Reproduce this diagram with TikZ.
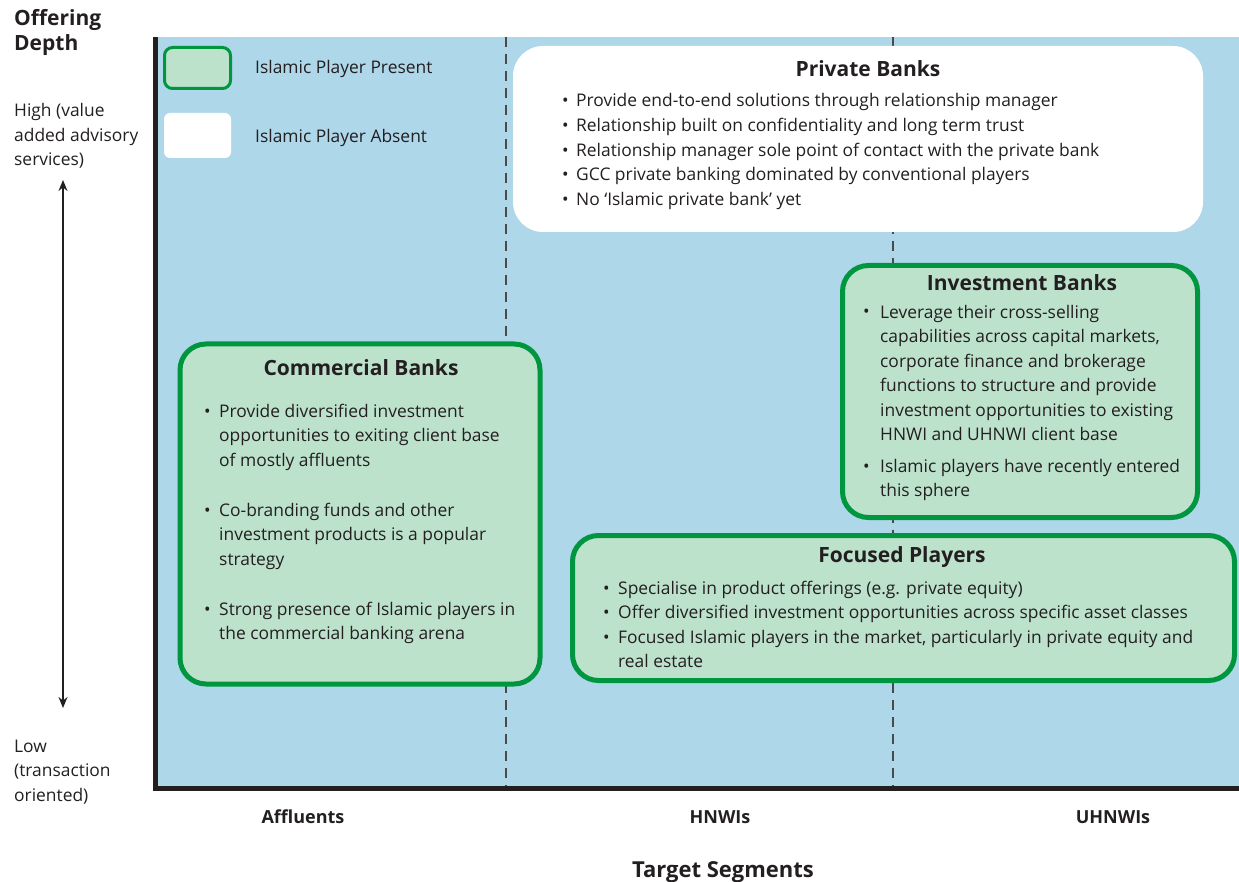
\documentclass[tikz,border=0pt]{standalone}
\usepackage{fontspec}
\setmainfont{Open Sans}
\usetikzlibrary{arrows.meta}
\definecolor{ink}{HTML}{231F20}
\definecolor{sky}{HTML}{AED7EA}
\definecolor{pgreen}{HTML}{00953F}
\definecolor{pfill}{HTML}{BDE2CC}
\definecolor{dashgray}{HTML}{4A4A4A}
\begin{document}
\begin{tikzpicture}[x=1pt,y=-1pt,
  % multi-line text nodes are placed by the baseline of their last line
  body/.style={font=\fontsize{17.4}{24.5}\selectfont, text=ink, inner sep=0pt, align=left, anchor=base west},
  dot/.style={font=\fontsize{17.4}{24.5}\selectfont, text=ink, inner sep=0pt, anchor=base west},
  heading/.style={font=\bfseries\fontsize{21}{25}\selectfont, text=ink, inner sep=0pt, anchor=base},
  axislabel/.style={font=\bfseries\fontsize{18}{24}\selectfont, text=ink, inner sep=0pt, anchor=base},
  sidelabel/.style={font=\fontsize{17.4}{24.5}\selectfont, text=ink, inner sep=0pt, align=left, anchor=base west},
  present/.style={draw=pgreen, line width=5pt, fill=pfill, rounded corners=26pt, inner sep=0pt},
  absent/.style={fill=white, rounded corners=30pt, inner sep=0pt},
  divider/.style={draw=dashgray, line width=1.2pt, dash pattern=on 10pt off 7pt},
  axis/.style={draw=ink, line width=5pt}
]
\useasboundingbox (0,0) rectangle (1239,882);

% plotting area
\fill[sky] (155,37) rectangle (1239,788);
\coordinate (d1top) at (506,37);
\coordinate (d1bot) at (506,788);
\coordinate (d2top) at (893,37);
\coordinate (d2bot) at (893,788);
\draw[divider] (d1top) -- (d1bot);
\draw[divider] (d2top) -- (d2bot);
\coordinate (origin) at (155,788);
\coordinate (ytop) at (155,37);
\coordinate (xend) at (1239,788);
\draw[axis] (ytop) -- (origin) -- (xend);

% legend
\node[draw=pgreen, line width=3pt, fill=pfill, rounded corners=8pt, minimum width=66pt, minimum height=41pt, inner sep=0pt] (legp) at (197.5,68) {};
\node[fill=white, rounded corners=6pt, minimum width=67pt, minimum height=45pt, inner sep=0pt] (lega) at (197.5,135.5) {};
\node[body] (legpt) at (255,74) {Islamic Player Present};
\node[body] (legat) at (255,143) {Islamic Player Absent};

% Private Banks
\node[absent, minimum width=690pt, minimum height=186pt] (pb) at (858,139) {};
\node[heading] (pbt) at (868,77) {Private Banks};
\foreach \y/\t [count=\i] in {107/{Provide end-to-end solutions through relationship manager},
  132/{Relationship built on confidentiality and long term trust},
  157/{Relationship manager sole point of contact with the private bank},
  181/{GCC private banking dominated by conventional players},
  206/{No ‘Islamic private bank’ yet}}{
  \node[dot] (pbd\i) at (562,\y) {•};
  \node[body] (pbl\i) at (576,\y) {\t};
}

% Investment Banks
\node[present, minimum width=355pt, minimum height=252pt] (ib) at (1020,391.5) {};
\node[heading] (ibt) at (1022,291) {Investment Banks};
\node[dot] (ibd1) at (863,318) {•};
\node[body] (ibl1) at (880,440.5) {Leverage their cross-selling\\capabilities across capital markets,\\corporate finance and brokerage\\functions to structure and provide\\investment opportunities to existing\\HNWI and UHNWI client base};
\node[dot] (ibd2) at (863,472) {•};
\node[body] (ibl2) at (880,496.5) {Islamic players have recently entered\\this sphere};

% Commercial Banks
\node[present, minimum width=360pt, minimum height=340pt] (cb) at (360,514) {};
\node[heading] (cbt) at (361,375) {Commercial Banks};
\node[dot] (cbd1) at (204,417) {•};
\node[body] (cbl1) at (219,466) {Provide diversified investment\\opportunities to exiting client base\\of mostly affluents};
\node[dot] (cbd2) at (204,516) {•};
\node[body] (cbl2) at (219,565) {Co-branding funds and other\\investment products is a popular\\strategy};
\node[dot] (cbd3) at (204,615) {•};
\node[body] (cbl3) at (219,639.5) {Strong presence of Islamic players in\\the commercial banking arena};

% Focused Players
\node[present, minimum width=662pt, minimum height=145pt] (fp) at (903.5,608) {};
\node[heading] (fpt) at (902,562) {Focused Players};
\node[dot] (fpd1) at (603,594) {•};
\node[body] (fpl1) at (618,594) {Specialise in product offerings (e.g. private equity)};
\node[dot] (fpd2) at (603,618) {•};
\node[body] (fpl2) at (618,618) {Offer diversified investment opportunities across specific asset classes};
\node[dot] (fpd3) at (603,643) {•};
\node[body] (fpl3) at (618,667.5) {Focused Islamic players in the market, particularly in private equity and\\real estate};

% vertical axis labels
\node[font=\bfseries\fontsize{21}{25}\selectfont, text=ink, inner sep=0pt, align=left, anchor=base west] (ytitle) at (14,51) {Offering\\Depth};
\node[sidelabel] (high) at (14,166) {High (value\\added advisory\\services)};
\node[sidelabel] (low) at (14,801) {Low\\(transaction\\oriented)};
\coordinate (arrtop) at (63,180);
\coordinate (arrbot) at (63,708);
\draw[ink, line width=1.6pt, {Stealth[length=11pt,width=9pt]}-{Stealth[length=11pt,width=9pt]}] (arrtop) -- (arrbot);

% horizontal axis labels
\node[axislabel] (seg1) at (303,823) {Affluents};
\node[axislabel] (seg2) at (720,823) {HNWIs};
\node[axislabel] (seg3) at (1113,823) {UHNWIs};
\node[font=\bfseries\fontsize{22}{26}\selectfont, text=ink, inner sep=0pt, anchor=base] (xtitle) at (723,877) {Target Segments};
\end{tikzpicture}
\end{document}
